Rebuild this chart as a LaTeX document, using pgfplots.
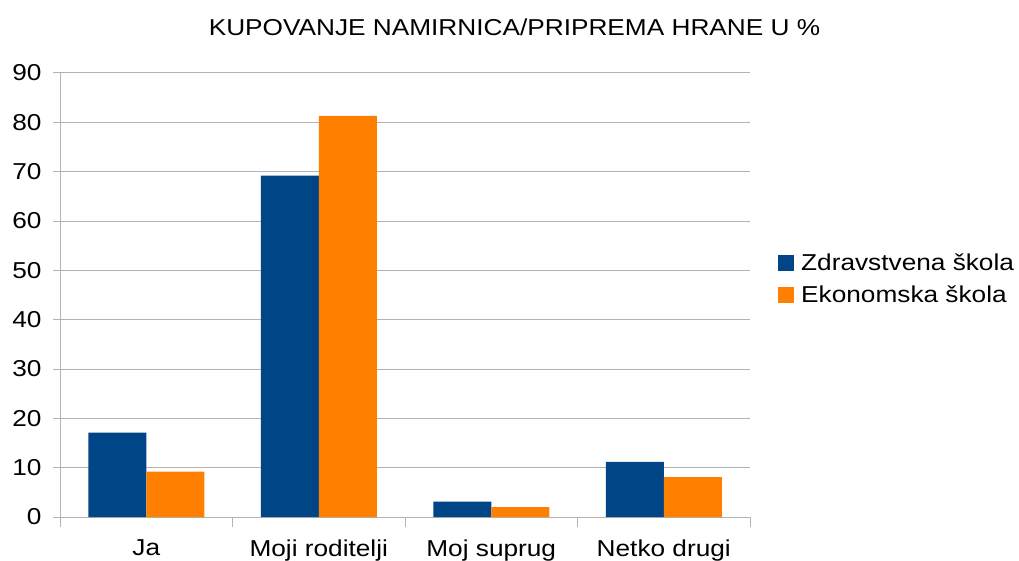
\documentclass[border=0pt]{standalone}
\usepackage{pgfplots}
\pgfplotsset{compat=1.18}
\usepackage{fontspec}
\setmainfont{Liberation Sans}[FakeStretch=1.14]
\definecolor{zblue}{HTML}{004586}
\definecolor{eorange}{HTML}{FF8000}
\definecolor{gridgray}{HTML}{B3B3B3}
\begin{document}
\begin{tikzpicture}[x=1pt,y=1pt]
\useasboundingbox (0,0) rectangle (1019,560);
\begin{axis}[
  at={(60pt,43pt)}, anchor=south west,
  scale only axis, width=690pt, height=444pt,
  ybar, bar width=58pt,
  ymin=0, ymax=90, ytick={0,10,...,90},
  xmin=-0.5, xmax=3.5,
  xtick={0,1,2,3},
  xticklabels={Ja,Moji roditelji,Moj suprug,Netko drugi},
  minor xtick={-0.5,0.5,1.5,2.5,3.5},
  major x tick style={draw=none},
  minor x tick style={gridgray, line width=1pt},
  minor tick length=10pt,
  ytick style={gridgray, line width=1pt},
  major tick length=7pt,
  tick align=outside,
  ymajorgrids, grid style={gridgray, line width=1pt},
  axis x line*=bottom, axis y line*=left,
  axis line style={gridgray, line width=1pt},
  separate axis lines,
  x axis line style={-}, y axis line style={-},
  tick label style={font=\fontsize{23}{27}\selectfont, black},
  xticklabel style={yshift=-12pt},
  yticklabel style={xshift=-8pt},
  /pgf/number format/assume math mode=true,
  legend style={at={(1.0406,0.536)}, anchor=west, draw=none, fill=none,
    font=\fontsize{23}{27}\selectfont, row sep=10pt, inner sep=0pt},
  legend cell align=left,
  /pgfplots/legend image code/.code={\fill[#1] (0pt,-8pt) rectangle (16pt,8pt); \path (21pt,0pt);},
  clip=false,
]
\addplot[fill=zblue, draw=none, bar shift=-29pt] coordinates {(0,17.1) (1,69.2) (2,3.1) (3,11.2)};
\addplot[fill=eorange, draw=none, bar shift=29pt] coordinates {(0,9.2) (1,81.3) (2,2.0) (3,8.1)};
\legend{Zdravstvena škola, Ekonomska škola}
\end{axis}
\node[font=\fontsize{23}{27}\selectfont] at (514.5,533) {KUPOVANJE NAMIRNICA/PRIPREMA HRANE U \%};
\end{tikzpicture}
\end{document}
